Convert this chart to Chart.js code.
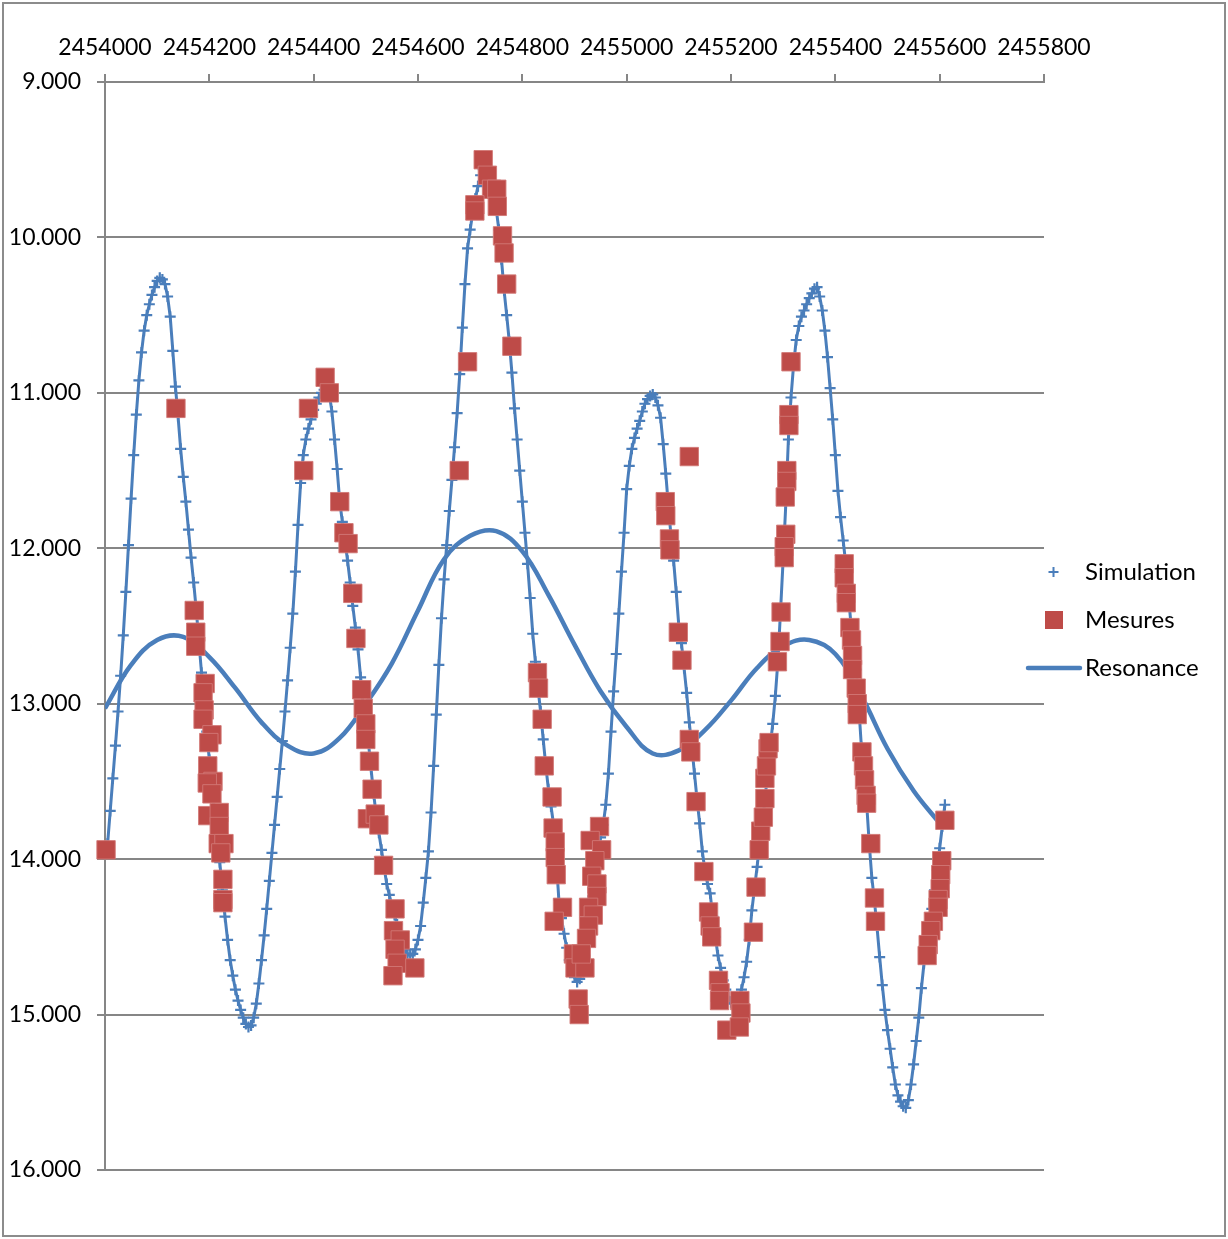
<!DOCTYPE html>
<html>
<head>
<meta charset="utf-8">
<script src="https://cdn.jsdelivr.net/npm/chart.js@4.4.1/dist/chart.umd.min.js"></script>
<style>
html,body{margin:0;padding:0;background:#fff;}
#wrap{position:relative;width:1228px;height:1239px;}
canvas{display:block;}
</style>
</head>
<body>
<div id="wrap"><canvas id="c" width="1228" height="1239"></canvas></div>
<script>
// ---- Data ----
const xTickStart = 2454000, xTickEnd = 2455800, xTickStep = 200;
const yTickStart = 9, yTickEnd = 16, yTickStep = 1;

// Simulation: sampled every 5 days from JD 2454005
const simStartJD = 2454005;
const simStepDays = 5;
const simMag = [
13.90,13.69,13.48,13.27,13.05,12.82,12.56,12.28,11.98,11.68,11.40,11.14,10.92,10.74,10.60,10.50,10.43,10.37,10.32,10.28,
10.26,10.27,10.30,10.38,10.51,10.73,10.96,11.15,11.36,11.54,11.70,11.88,12.06,12.22,12.40,12.60,12.80,12.99,13.18,13.36,
13.53,13.70,13.86,14.02,14.20,14.37,14.52,14.65,14.75,14.84,14.91,14.97,15.02,15.06,15.08,15.07,15.02,14.93,14.80,14.65,
14.49,14.32,14.14,13.96,13.78,13.60,13.42,13.24,13.05,12.85,12.64,12.42,12.15,11.85,11.58,11.40,11.30,11.23,11.17,11.11,
11.07,11.03,11.00,10.98,10.97,11.01,11.12,11.30,11.49,11.70,11.83,11.95,12.08,12.22,12.37,12.51,12.65,12.83,13.02,13.14,
13.25,13.42,13.58,13.72,13.83,13.94,14.05,14.16,14.23,14.30,14.36,14.42,14.48,14.54,14.58,14.61,14.62,14.61,14.58,14.52,
14.43,14.28,14.12,13.95,13.70,13.40,13.07,12.75,12.45,12.20,11.98,11.76,11.56,11.35,11.13,10.88,10.58,10.30,10.07,9.95,
9.84,9.75,9.67,9.60,9.56,9.55,9.58,9.64,9.72,9.82,9.95,10.14,10.34,10.50,10.67,10.87,11.10,11.30,11.50,11.70,
11.90,12.10,12.32,12.55,12.73,12.90,13.05,13.23,13.40,13.55,13.66,13.78,14.00,14.26,14.38,14.48,14.57,14.65,14.71,14.76,
14.79,14.77,14.72,14.62,14.50,14.37,14.24,14.08,13.94,13.86,13.78,13.65,13.45,13.18,12.92,12.68,12.42,12.15,11.90,11.62,
11.47,11.36,11.29,11.23,11.18,11.12,11.07,11.04,11.02,11.01,11.03,11.08,11.16,11.33,11.52,11.73,11.92,12.08,12.28,12.50,
12.61,12.77,12.93,13.12,13.28,13.45,13.62,13.77,13.95,14.07,14.16,14.22,14.37,14.50,14.62,14.70,14.78,14.84,14.89,14.92,
14.93,14.92,14.89,14.84,14.76,14.66,14.52,14.33,14.19,14.05,13.90,13.77,13.62,13.45,13.28,13.13,12.95,12.72,12.40,12.07,
11.72,11.30,11.03,10.82,10.66,10.57,10.51,10.47,10.43,10.39,10.36,10.33,10.32,10.38,10.47,10.60,10.77,10.97,11.17,11.40,
11.63,11.80,11.95,12.10,12.30,12.49,12.63,12.78,13.02,13.28,13.46,13.64,13.90,14.12,14.27,14.44,14.63,14.81,14.97,15.10,
15.22,15.34,15.45,15.52,15.56,15.59,15.60,15.55,15.45,15.32,15.17,15.02,14.83,14.67,14.52,14.41,14.32,14.20,14.07,13.93,
13.79,13.65
];

// Mesures (JD, magnitude)
const mesJD = [
2454002,2454136,
2454171,2454174,2454174,2454192,2454188,2454190,2454188,2454205,2454199,2454197,2454207,2454196,2454205,2454197,2454219,2454219,2454217,2454228,2454222,2454226,2454226,2454226,
2454422,2454430,2454390,2454381,2454450,2454458,2454466,2454475,2454481,2454492,2454495,2454500,2454500,2454507,2454512,2454503,2454518,2454525,2454534,2454556,2454553,2454566,2454556,2454560,2454552,2454594,
2454725,2454733,2454741,2454751,2454709,2454709,2454752,2454762,2454765,2454770,2454780,2454695,2454679,
2454829,2454831,2454838,2454842,2454857,2454859,2454863,2454863,2454865,2454877,2454861,2454898,2454901,2454920,2454907,2454909,
2454948,2454930,2454952,2454939,2454933,2454943,2454943,2454927,2454936,2454927,2454923,2454913,
2455120,2455074,2455075,2455082,2455083,2455099,2455106,2455120,2455123,2455133,
2455148,2455157,2455160,2455163,2455176,2455179,2455178,2455192,2455217,2455219,2455216,
2455243,2455248,2455254,2455257,2455262,2455265,2455265,2455268,2455271,2455273,
2455315,2455311,2455311,2455307,2455307,2455304,2455305,2455302,2455302,2455296,2455294,2455289,
2455417,2455417,2455421,2455421,2455428,2455431,2455433,2455433,2455440,2455442,2455442,2455451,2455454,2455456,2455459,2455460,2455468,2455475,2455477,
2455610,2455604,2455602,2455601,2455597,2455597,2455588,2455583,2455578,2455576
];
const mesMag = [
13.94,11.10,
12.40,12.54,12.63,12.87,12.93,13.04,13.10,13.20,13.25,13.40,13.50,13.51,13.58,13.72,13.70,13.79,13.90,13.90,13.96,14.13,14.26,14.28,
10.90,11.00,11.10,11.50,11.70,11.90,11.97,12.29,12.58,12.91,13.03,13.13,13.23,13.37,13.55,13.74,13.71,13.78,14.04,14.32,14.46,14.52,14.58,14.67,14.75,14.70,
9.50,9.60,9.69,9.69,9.79,9.83,9.80,9.99,10.10,10.30,10.70,10.80,11.50,
12.80,12.90,13.10,13.40,13.60,13.80,13.89,13.99,14.10,14.31,14.40,14.61,14.70,14.70,14.90,15.00,
13.79,13.88,13.94,14.01,14.11,14.16,14.24,14.31,14.36,14.43,14.51,14.61,
11.41,11.70,11.79,11.94,12.01,12.54,12.72,13.23,13.31,13.63,
14.08,14.34,14.43,14.50,14.78,14.86,14.91,15.10,14.91,14.99,15.08,
14.47,14.18,13.94,13.82,13.73,13.61,13.48,13.40,13.29,13.25,
10.80,11.14,11.21,11.50,11.57,11.67,11.91,11.99,12.06,12.41,12.60,12.73,
12.10,12.19,12.29,12.35,12.51,12.59,12.69,12.78,12.90,13.00,13.07,13.31,13.40,13.49,13.59,13.64,13.90,14.25,14.40,
13.75,14.01,14.10,14.19,14.26,14.31,14.40,14.46,14.55,14.62
];

// Resonance (JD, magnitude)
const resJD = [2454000,2454050,2454100,2454150,2454200,2454250,2454300,2454350,2454400,2454450,2454500,2454550,2454600,2454650,2454700,2454750,2454800,2454850,2454900,2454950,2455000,2455050,2455100,2455150,2455200,2455250,2455300,2455350,2455400,2455450,2455500,2455550,2455600];
const resMag = [13.03,12.75,12.59,12.57,12.70,12.90,13.12,13.27,13.32,13.22,13.00,12.74,12.40,12.07,11.92,11.89,12.02,12.30,12.62,12.92,13.15,13.32,13.30,13.17,12.98,12.77,12.63,12.59,12.68,12.95,13.29,13.56,13.77];

const seriesNames = ['Simulation','Mesures','Resonance'];
const simColor = '#4A7EBB', mesColor = '#BE4B48', resColor = '#4A7EBB';

// ---- build datasets ----
const simData = simMag.map((v,i)=>({x: simStartJD + i*simStepDays, y: v}));
const mesData = mesJD.map((x,i)=>({x, y: mesMag[i]}));
const resData = resJD.map((x,i)=>({x, y: resMag[i]}));

const FONT = 'Lato';
const CA = {left:105, top:82, right:1044, bottom:1170};

const legendPlugin = {
  id:'customLegend',
  afterDraw(chart){
    const ctx = chart.ctx;
    ctx.save();
    // outer frame
    ctx.strokeStyle = '#8c8c8c';
    ctx.lineWidth = 2;
    ctx.strokeRect(3, 3, 1222, 1233);
    // legend
    ctx.font = '24px ' + FONT;
    ctx.fillStyle = '#000';
    ctx.textBaseline = 'middle';
    ctx.textAlign = 'left';
    // Simulation
    ctx.strokeStyle = simColor; ctx.lineWidth = 2;
    ctx.beginPath();
    ctx.moveTo(1048.5,572); ctx.lineTo(1058.5,572);
    ctx.moveTo(1053.5,567); ctx.lineTo(1053.5,577);
    ctx.stroke();
    ctx.fillText(seriesNames[0], 1085, 572);
    // Mesures
    ctx.fillStyle = mesColor;
    ctx.fillRect(1045, 611, 18, 18);
    ctx.fillStyle = '#000';
    ctx.fillText(seriesNames[1], 1085, 620);
    // Resonance
    ctx.strokeStyle = resColor; ctx.lineWidth = 4.5; ctx.lineCap='round';
    ctx.beginPath(); ctx.moveTo(1028,668); ctx.lineTo(1080,668); ctx.stroke();
    ctx.fillText(seriesNames[2], 1085, 668);
    ctx.restore();
  }
};

new Chart(document.getElementById('c'), {
  type:'scatter',
  data:{datasets:[
    {label:seriesNames[0], data:simData, showLine:true, borderColor:simColor, borderWidth:3,
     pointStyle:'cross', pointRadius:5.5, pointBorderWidth:2.2, pointBorderColor:simColor, pointBackgroundColor:simColor, order:1},
    {label:seriesNames[1], data:mesData, showLine:false, pointStyle:'rect', pointRadius:13, clip:false,
     backgroundColor:mesColor, pointBackgroundColor:mesColor, pointBorderColor:'rgba(210,120,118,0.9)', pointBorderWidth:1, order:0},
    {label:seriesNames[2], data:resData, showLine:true, borderColor:resColor, borderWidth:4.5, pointRadius:0,
     tension:0.4, order:2}
  ]},
  options:{
    responsive:false, animation:false, devicePixelRatio:1,
    layout:{padding:{left:0, top:0, right:1228-CA.right, bottom:1239-CA.bottom}},
    plugins:{legend:{display:false}, tooltip:{enabled:false}},
    scales:{
      x:{type:'linear', position:'top', min:xTickStart, max:xTickEnd,
        afterFit(s){ s.height = CA.top; },
        ticks:{stepSize:xTickStep, color:'#000', font:{family:FONT, size:23}, padding:13, maxRotation:0,
          callback:v=>String(v)},
        grid:{drawOnChartArea:false, drawTicks:true, tickLength:8, color:'#868686', lineWidth:2},
        border:{display:true, color:'#868686', width:2}
      },
      y:{type:'linear', reverse:true, min:yTickStart, max:yTickEnd,
        afterFit(s){ s.width = CA.left; },
        ticks:{stepSize:yTickStep, color:'#000', font:{family:FONT, size:23}, padding:16,
          callback:v=>Number(v).toFixed(3)},
        grid:{drawOnChartArea:true, drawTicks:true, tickLength:8, color:'#868686', lineWidth:2},
        border:{display:true, color:'#868686', width:2}
      }
    }
  },
  plugins:[legendPlugin]
});
</script>
</body>
</html>
